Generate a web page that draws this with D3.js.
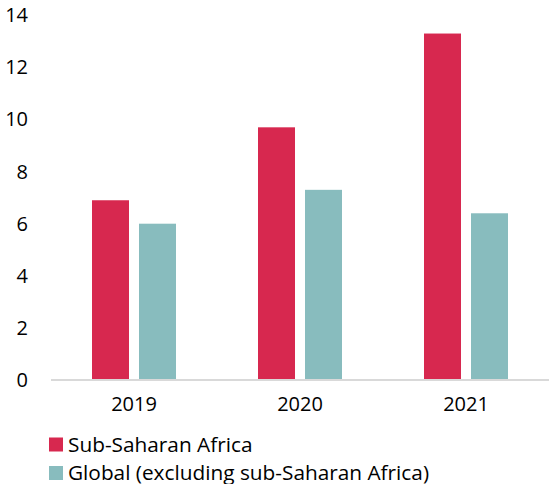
<!DOCTYPE html>
<html><head><meta charset="utf-8">
<script src="https://cdn.jsdelivr.net/npm/d3@7"></script>
<style>body{margin:0;background:#fff}svg{display:block}</style>
</head><body><svg id="c" width="550" height="484"></svg>
<script>
const categories = ["2019","2020","2021"];
const seriesNames = ["Sub-Saharan Africa","Global (excluding sub-Saharan Africa)"];
const subSaharan = [6.9, 9.7, 13.3];
const globalEx = [6.0, 7.3, 6.4];
const yTicks = [0,2,4,6,8,10,12,14];
const colors = ["#D7284F","#88BCBE"];

const svg = d3.select("#c");
const x = d3.scaleBand().domain(categories).range([51,549]).paddingInner(0).paddingOuter(0);
const x1 = d3.scaleBand().domain([0,1]).range([41,125]).paddingInner(10/47);
const y = d3.scaleLinear().domain([0,14]).range([380,15.3]);

const series = [subSaharan, globalEx];
series.forEach((vals,si)=>{
  svg.append("g").selectAll("rect").data(vals).join("rect")
    .attr("x",(d,i)=>x(categories[i])+x1(si))
    .attr("width",x1.bandwidth())
    .attr("y",d=>y(d))
    .attr("height",d=>y(0)-y(d))
    .attr("fill",colors[si]);
});

svg.append("line").attr("x1",51).attr("x2",549).attr("y1",y(0)).attr("y2",y(0))
  .attr("stroke","#d9d9d9").attr("stroke-width",2);

const ya = svg.append("g").attr("transform","translate(28,0)")
  .call(d3.axisLeft(y).tickValues(yTicks).tickSize(0).tickPadding(0));
ya.select(".domain").remove();
ya.selectAll("text").style("font-family","'Open Sans'").style("font-size","20px").attr("fill","#000");

const xa = svg.append("g").attr("transform","translate(0,397)")
  .call(d3.axisBottom(x).tickSize(0).tickPadding(0));
xa.select(".domain").remove();
xa.selectAll("text").style("font-family","'Open Sans'").style("font-size","20px").attr("fill","#000").attr("dy","0.71em");

const lg = svg.append("g");
seriesNames.forEach((n,i)=>{
  const yy = 437.5 + i*28.5;
  lg.append("rect").attr("x",49).attr("y",yy).attr("width",14).attr("height",14).attr("fill",colors[i]);
  lg.append("text").attr("x",68).attr("y",yy+14).style("font-family","'Open Sans'").style("font-size","20.8px").attr("fill","#000").text(n);
});
</script></body></html>
